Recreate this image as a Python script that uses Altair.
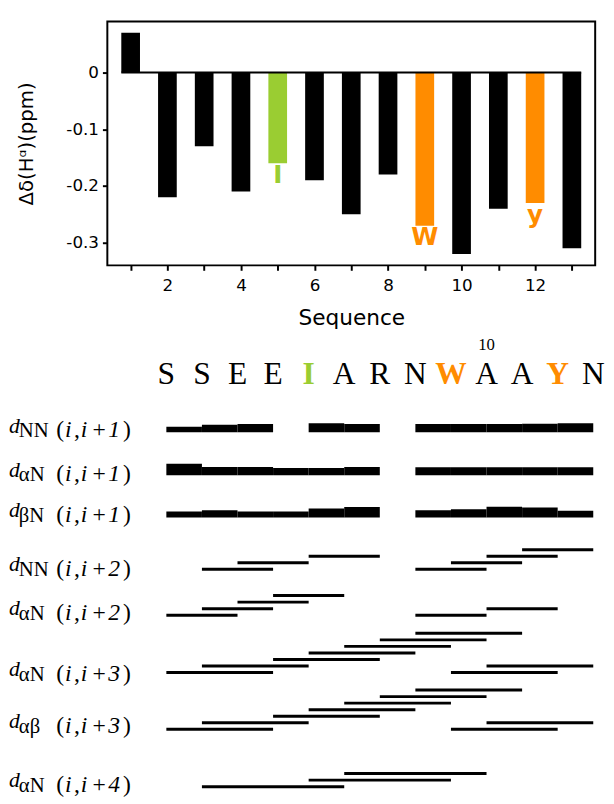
import altair as alt
import pandas as pd

# ---------------- data ----------------
residues = list(range(1, 14))
sequence = ["S", "S", "E", "E", "I", "A", "R", "N", "W", "A", "A", "Y", "N"]
delta_ha = [0.07, -0.22, -0.13, -0.21, -0.16, -0.19, -0.25, -0.18,
            -0.27, -0.32, -0.24, -0.23, -0.31]
residue_group = ["other", "other", "other", "other", "green", "other", "other",
                 "other", "orange", "other", "other", "orange", "other"]
bar_label = ["", "", "", "", "I", "", "", "", "W", "", "", "y", ""]
numbered_residue = [10]

# NOE rows: subscript of the label and the (i, i+k) span
row_sub = ["NN", "αN", "βN", "NN", "αN", "αN", "αβ", "αN"]
row_span = [1, 1, 1, 2, 2, 3, 3, 4]

# sequential (i,i+1) NOEs: start residue and intensity (bar thickness)
dnn1_start = [1, 2, 3, 5, 6, 8, 9, 10, 11, 12]
dnn1_int = [5.7, 7.7, 8.3, 9.3, 8.3, 8.3, 8.3, 8.3, 8.7, 9.3]
dan1_start = [1, 2, 3, 4, 5, 6, 8, 9, 10, 11, 12]
dan1_int = [11.7, 8.3, 8.3, 7.3, 7.3, 8.3, 8.0, 8.0, 8.0, 8.0, 8.0]
dbn1_start = [1, 2, 3, 4, 5, 6, 8, 9, 10, 11, 12]
dbn1_int = [6.0, 7.3, 6.0, 6.0, 9.0, 10.7, 7.3, 8.3, 11.0, 10.0, 6.7]

# medium-range NOEs: start residue and stacking level in the diagram
dnn2_start = [2, 3, 5, 8, 9, 10, 11]
dnn2_level = [0, 1, 2, 0, 1, 2, 3]
dan2_start = [1, 2, 3, 4, 8, 10]
dan2_level = [0, 1, 2, 3, 0, 1]
dan3_start = [1, 2, 4, 5, 6, 7, 8, 9, 10]
dan3_level = [0, 1, 2, 3, 4, 5, 6, 0, 1]
dab3_start = [1, 2, 4, 5, 6, 7, 8, 9, 10]
dab3_level = [0, 1, 2, 3, 4, 5, 6, 0, 1]
dan4_start = [2, 5, 6]
dan4_level = [0, 1, 2]

# ---------------- layout / style ----------------
GREEN, ORANGE = "#9ACD32", "#FF8C00"
SANS = "DejaVu Sans"
SERIF = "Liberation Serif"
TOP_W, TOP_H = 496, 248
PLOT_X0 = 108            # page x of the plot-area left edge
BOT_Y0 = 335             # page y of the bottom panel top
BOT_W, BOT_H = 496, 469
SEQ_X1, SEQ_DX = 168, 36.17   # page x of residue 1, spacing per residue
ROW_Y = [431.7, 475.3, 518.3, 571, 617.7, 676, 733.7, 792]
LABEL_Y = [437, 481.7, 523.3, 577.7, 622.7, 685, 737.7, 797.7]
LEVEL_STEP = 6.65
SEQ_Y, NUM_Y = 383, 348
# label pieces: (text or key, page x, font size, italic, dy)
PIECES = [("d", 8, 22, True, -5), ("SUB", 18, 21, False, 0), ("(", 56, 24, False, 0),
          ("i", 65, 24, True, 0), (",", 74, 24, False, 0), ("i", 81, 24, True, 0),
          ("+", 93, 24, False, 0), ("K", 109, 24, True, 0), (")", 124, 24, False, 0)]


def px_to_res(px):
    return 1 + (px - SEQ_X1) / SEQ_DX


color_scale = alt.Scale(domain=["other", "green", "orange"], range=["black", GREEN, ORANGE])

# ---------------- top panel ----------------
top_df = pd.DataFrame({"residue": residues, "delta": delta_ha,
                       "group": residue_group, "label": bar_label})

xs = alt.Scale(domain=[0.5, 13.5], nice=False, zero=False)
ys = alt.Scale(domain=[-0.34, 0.09], nice=False, zero=False)
x_axis = alt.Axis(values=residues, labelExpr="datum.value % 2 == 0 ? datum.label : ''",
                  grid=False, domain=False, tickColor="black", tickWidth=2, tickSize=5,
                  labelFont=SANS, labelFontSize=17, labelColor="black", labelPadding=8,
                  labelFlush=False, title="Sequence", titleFont=SANS, titleFontSize=22,
                  titleFontWeight="normal", titleColor="black", titlePadding=14)
y_vals = [-0.3, -0.25, -0.2, -0.15, -0.1, -0.05, 0, 0.05]
y_axis = alt.Axis(values=y_vals,
                  labelExpr="abs(datum.value*10 - round(datum.value*10)) < 0.01 ? "
                            "(datum.value == 0 ? '0' : replace(format(datum.value, '.1f'), '\u2212', '-')) : ''",
                  grid=False, domain=False, tickColor="black", tickWidth=2, tickSize=5,
                  labelFont=SANS, labelFontSize=17, labelColor="black", labelPadding=4,
                  labelFlush=False, title="Δδ(Hᵅ)(ppm)", titleFont=SANS, titleFontSize=20,
                  titleFontWeight="normal", titleColor="black", titlePadding=30)

base_top = alt.Chart(top_df)
bars = base_top.mark_bar(size=19).encode(
    x=alt.X("residue:Q", scale=xs, axis=x_axis),
    y=alt.Y("delta:Q", scale=ys, axis=y_axis),
    color=alt.Color("group:N", scale=color_scale, legend=None),
)
zero_df = pd.DataFrame({"a": [residues[0]], "b": [residues[-1]]})
zero_line = alt.Chart(zero_df).mark_rule(color="black", strokeWidth=2, xOffset=-9.5, x2Offset=9.5).encode(
    x="a:Q", x2="b:Q", y=alt.datum(0))
bar_text = base_top.transform_filter("datum.label != ''").mark_text(
    baseline="top", dy=0, font=SANS, fontSize=25, fontWeight="bold").encode(
    x="residue:Q", y="delta:Q", text="label:N",
    color=alt.Color("group:N", scale=color_scale, legend=None))

top = alt.layer(bars, zero_line, bar_text).properties(
    width=TOP_W, height=TOP_H, view=alt.ViewBackground(stroke="black", strokeWidth=2))

# ---------------- bottom panel ----------------
bx = alt.Scale(domain=[px_to_res(PLOT_X0), px_to_res(PLOT_X0 + BOT_W)], nice=False, zero=False)
by = alt.Scale(domain=[BOT_Y0, BOT_Y0 + BOT_H], nice=False, zero=False, reverse=True)

seq_df = pd.DataFrame({"residue": residues, "letter": sequence, "group": residue_group,
                       "y": [SEQ_Y] * len(residues)})
num_df = pd.DataFrame({"residue": numbered_residue, "txt": [str(v) for v in numbered_residue],
                       "y": [NUM_Y] * len(numbered_residue)})

seq_rows = []
for r, (starts, ints) in enumerate([(dnn1_start, dnn1_int), (dan1_start, dan1_int),
                                    (dbn1_start, dbn1_int)]):
    for s, w in zip(starts, ints):
        seq_rows.append({"start": s, "end": s + row_span[r],
                         "y0": ROW_Y[r], "y1": ROW_Y[r] - w})
noe1_df = pd.DataFrame(seq_rows)

med_rows = []
for r, (starts, levels) in zip(range(3, 8), [(dnn2_start, dnn2_level), (dan2_start, dan2_level),
                                             (dan3_start, dan3_level), (dab3_start, dab3_level),
                                             (dan4_start, dan4_level)]):
    for s, lv in zip(starts, levels):
        med_rows.append({"start": s, "end": s + row_span[r], "y": ROW_Y[r] - lv * LEVEL_STEP})
med_df = pd.DataFrame(med_rows)

piece_rows = []
for r in range(len(row_sub)):
    for key, px, fs, ital, dy in PIECES:
        txt = row_sub[r] if key == "SUB" else (str(row_span[r]) if key == "K" else key)
        piece_rows.append({"x": px_to_res(px), "y": LABEL_Y[r] + dy, "txt": txt,
                           "fs": fs, "ital": ital})
piece_df = pd.DataFrame(piece_rows)

letters = alt.Chart(seq_df).transform_filter("datum.group == 'other'").mark_text(
    font=SERIF, fontSize=32, baseline="alphabetic", color="black").encode(
    x=alt.X("residue:Q", scale=bx, axis=None), y=alt.Y("y:Q", scale=by, axis=None), text="letter:N")
letters_hl = alt.Chart(seq_df).transform_filter("datum.group != 'other'").mark_text(
    font=SERIF, fontSize=32, baseline="alphabetic", fontWeight="bold").encode(
    x=alt.X("residue:Q", scale=bx, axis=None), y=alt.Y("y:Q", scale=by, axis=None), text="letter:N",
    color=alt.Color("group:N", scale=color_scale, legend=None))
numbers = alt.Chart(num_df).mark_text(font=SERIF, fontSize=17, baseline="alphabetic", color="black").encode(
    x=alt.X("residue:Q", scale=bx, axis=None), y=alt.Y("y:Q", scale=by, axis=None), text="txt:N")
noe1 = alt.Chart(noe1_df).mark_rect(color="black").encode(
    x=alt.X("start:Q", scale=bx, axis=None), x2="end:Q",
    y=alt.Y("y1:Q", scale=by, axis=None), y2="y0:Q")
noe_med = alt.Chart(med_df).mark_rule(color="black", strokeWidth=3).encode(
    x=alt.X("start:Q", scale=bx, axis=None), x2="end:Q",
    y=alt.Y("y:Q", scale=by, axis=None))
lab_up = alt.Chart(piece_df).transform_filter("!datum.ital").mark_text(
    font=SERIF, align="left", baseline="alphabetic", color="black").encode(
    x=alt.X("x:Q", scale=bx, axis=None), y=alt.Y("y:Q", scale=by, axis=None),
    text="txt:N", size=alt.Size("fs:Q", scale=None, legend=None))
lab_it = alt.Chart(piece_df).transform_filter("datum.ital").mark_text(
    font=SERIF, fontStyle="italic", align="left", baseline="alphabetic", color="black").encode(
    x=alt.X("x:Q", scale=bx, axis=None), y=alt.Y("y:Q", scale=by, axis=None),
    text="txt:N", size=alt.Size("fs:Q", scale=None, legend=None))

bottom = alt.layer(letters, letters_hl, numbers, noe1, noe_med, lab_up, lab_it).properties(
    width=BOT_W, height=BOT_H, view=alt.ViewBackground(stroke="transparent"))

chart = alt.vconcat(top, bottom, spacing=6).properties(
    padding={"left": 0, "top": 6, "right": 0, "bottom": 0},
    background="white")

chart.save("out.html", embed_options={"renderer": "svg", "actions": False})
